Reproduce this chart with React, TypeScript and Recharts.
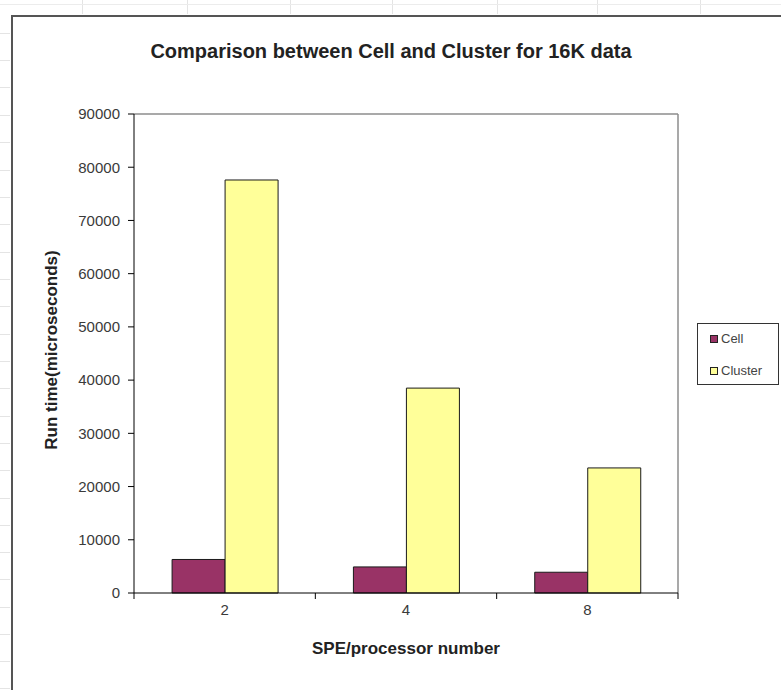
import React from 'react';
import { BarChart, Bar, XAxis, YAxis, ReferenceLine, Label } from 'recharts';

// Run time (microseconds) for 16K data, per SPE / processor count
const categories = ['2', '4', '8'];
const cellRuntime = [6300, 4900, 3900];
const clusterRuntime = [77600, 38500, 23500];
const yTicks = [0, 10000, 20000, 30000, 40000, 50000, 60000, 70000, 80000, 90000];
const seriesNames = ['Cell', 'Cluster'];
const seriesColors = ['#993366', '#FFFF99'];
// category boundaries (on the 0..3 slot axis) that carry x tick marks
const boundaryTicks = [0, 1, 2, 3];

const rows = categories.map((spe, i) => ({
  spe,
  slot: i + 0.5,
  Cell: cellRuntime[i],
  Cluster: clusterRuntime[i],
}));

const FONT = '"Liberation Sans", Arial, sans-serif';

// faint worksheet cell lines around the chart frame
const sheetCols = [82, 187, 290, 392, 497, 597, 700];
const sheetRows = [33, 60, 87, 115, 142, 170, 197, 224, 252, 279, 306, 334, 361, 388, 416, 443, 470, 498, 525, 552, 579, 607, 634, 661, 688];

export default function App() {
  return (
    <div
      style={{
        position: 'absolute',
        left: 0,
        top: 0,
        width: 781,
        height: 690,
        background: '#fff',
        overflow: 'hidden',
        fontFamily: FONT,
      }}
    >
      {sheetCols.map((x) => (
        <div key={'c' + x} style={{ position: 'absolute', left: x, top: 0, width: 1, height: 14, background: '#e4e4e4' }} />
      ))}
      {sheetRows.map((y) => (
        <div key={'r' + y} style={{ position: 'absolute', left: 0, top: y, width: 10, height: 1, background: '#e4e4e4' }} />
      ))}
      <div style={{ position: 'absolute', left: 0, top: 4, width: 781, height: 1, background: '#ececec' }} />

      {/* chart frame */}
      <div
        style={{
          position: 'absolute',
          left: 11,
          top: 15,
          width: 800,
          height: 700,
          borderLeft: '2px solid #555',
          borderTop: '2px solid #555',
        }}
      />

      <div style={{ position: 'absolute', left: 0, top: 0 }}>
        <BarChart
          width={781}
          height={690}
          data={rows}
          margin={{ top: 114, right: 103, bottom: 67, left: 0 }}
          barGap={0}
          barCategoryGap="21%"
        >
          <text
            x={391}
            y={58}
            textAnchor="middle"
            fontFamily={FONT}
            fontWeight="bold"
            fontSize={20}
            fill="#222"
          >
            Comparison between Cell and Cluster for 16K data
          </text>
          {/* numeric slot axis used to place marks between categories */}
          <XAxis
            xAxisId="bounds"
            dataKey="slot"
            type="number"
            domain={[0, 3]}
            hide
          />
          <XAxis
            dataKey="spe"
            height={30}
            tickLine={false}
            tickSize={6}
            tickMargin={5}
            axisLine={{ stroke: '#000' }}
            tick={{ fill: '#3a3a3a', fontSize: 15, fontFamily: FONT }}
          >
            <Label
              content={({ viewBox }: any) => (
                <text
                  x={viewBox.x + viewBox.width / 2}
                  y={654}
                  textAnchor="middle"
                  fontFamily={FONT}
                  fontWeight="bold"
                  fontSize={17}
                  fill="#222"
                >
                  SPE/processor number
                </text>
              )}
            />
          </XAxis>
          <YAxis
            width={134}
            domain={[0, 90000]}
            ticks={yTicks}
            interval={0}
            tickSize={6}
            tickMargin={8}
            axisLine={{ stroke: '#000' }}
            tickLine={{ stroke: '#000' }}
            tick={{ fill: '#3a3a3a', fontSize: 15, fontFamily: FONT }}
          >
            <Label
              content={() => (
                <text
                  x={0}
                  y={0}
                  transform="translate(57 350) rotate(-90)"
                  textAnchor="middle"
                  fontFamily={FONT}
                  fontWeight="bold"
                  fontSize={17}
                  fill="#222"
                >
                  Run time(microseconds)
                </text>
              )}
            />
          </YAxis>
          <ReferenceLine y={90000} stroke="#8c8c8c" strokeWidth={1.5} />
          <ReferenceLine xAxisId="bounds" x={3} stroke="#8c8c8c" strokeWidth={1.5} />
          {boundaryTicks.map((b) => (
            <ReferenceLine
              key={'tick' + b}
              xAxisId="bounds"
              ifOverflow="visible"
              segment={[
                { x: b, y: 0 },
                { x: b, y: -1130 },
              ]}
              stroke="#000"
              strokeWidth={1}
            />
          ))}
          <Bar
            dataKey="Cell"
            name={seriesNames[0]}
            fill={seriesColors[0]}
            stroke="#1a1a1a"
            strokeWidth={1}
            isAnimationActive={false}
          />
          <Bar
            dataKey="Cluster"
            name={seriesNames[1]}
            fill={seriesColors[1]}
            stroke="#1a1a1a"
            strokeWidth={1}
            isAnimationActive={false}
          />
        </BarChart>
      </div>

      {/* legend */}
      <div
        style={{
          position: 'absolute',
          left: 697,
          top: 323,
          width: 80,
          height: 60,
          border: '1px solid #333',
          background: '#fff',
        }}
      >
        {seriesNames.map((name, i) => (
          <div
            key={name}
            style={{
              position: 'absolute',
              left: 12,
              top: i === 0 ? 8 : 40,
              display: 'flex',
              alignItems: 'center',
              fontSize: 13,
              color: '#444',
              lineHeight: '14px',
            }}
          >
            <span
              style={{
                display: 'inline-block',
                width: 6,
                height: 6,
                border: '1px solid #222',
                background: seriesColors[i],
                marginRight: 3,
              }}
            />
            {name}
          </div>
        ))}
      </div>
    </div>
  );
}
